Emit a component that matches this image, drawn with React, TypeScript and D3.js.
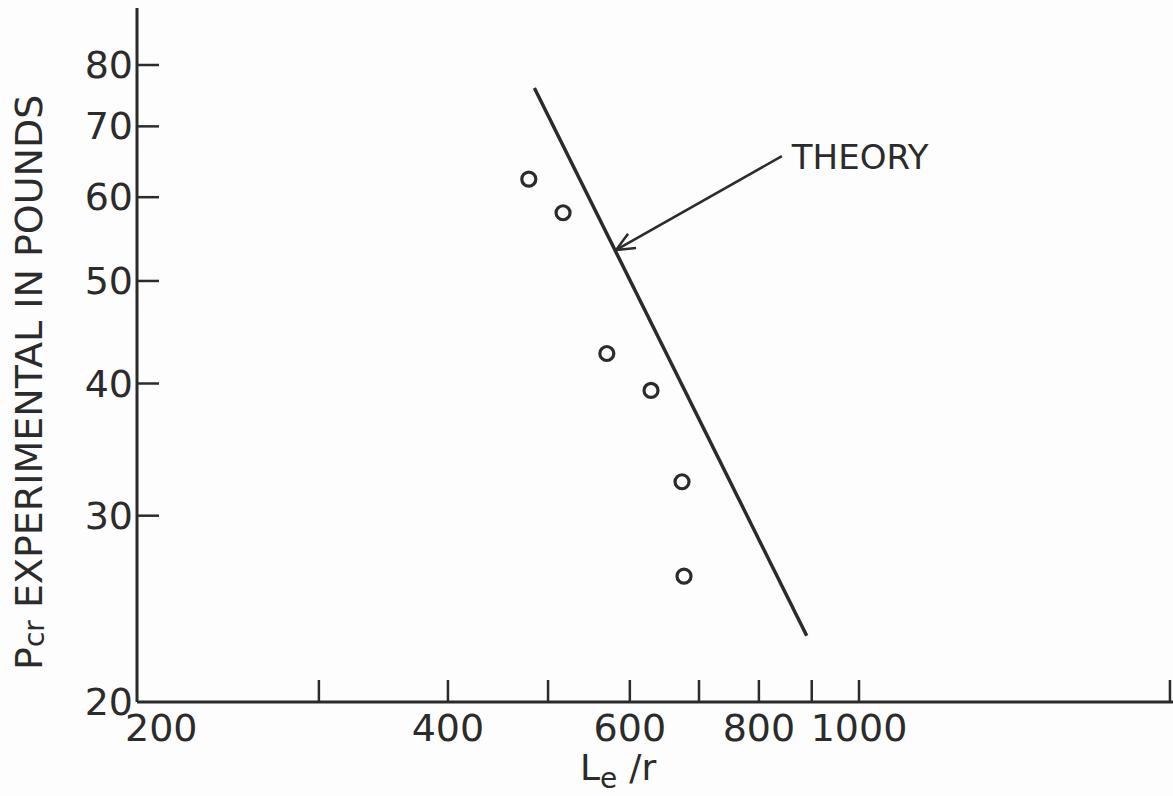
import React from "react";
import * as d3 from "d3";

// Slenderness ratio L_e/r of each test specimen and its measured buckling load (lb)
const slenderness = [479, 517, 570, 629, 674, 677];
const loadExperimental = [62.4, 58.0, 42.7, 39.4, 32.3, 26.3];

// End points of the theoretical curve (a straight line on log-log paper)
const theoryX = [485, 890];
const theoryY = [76.1, 23.1];

// Callout arrow: label end and tip on the theory line
const arrowX = [842, 582];
const arrowY = [65.6, 53.5];

const xTicks = [200, 300, 400, 500, 600, 700, 800, 900, 1000, 2000];
const xTickLabels = ["200", "", "400", "", "600", "", "800", "", "1000", ""];
const yTicks = [20, 30, 40, 50, 60, 70, 80];
const yTickLabels = ["20", "30", "40", "50", "60", "70", "80"];

const W = 1173;
const H = 796;
const INK = "#2b2b2b";
const FONT = "'DejaVu Sans', 'Liberation Sans', sans-serif";

export default function App() {
  const x = d3.scaleLog().domain([200, 1000]).range([137, 859]);
  const y = d3.scaleLog().domain([20, 80]).range([702, 65]);

  const theoryPts: [number, number][] = theoryX.map((v, i) => [x(v), y(theoryY[i])]);
  const theoryPath = d3.line()(theoryPts) as string;

  const ax0 = x(arrowX[0]);
  const ay0 = y(arrowY[0]);
  const ax1 = x(arrowX[1]);
  const ay1 = y(arrowY[1]);
  const ang = Math.atan2(ay1 - ay0, ax1 - ax0);
  const headLen = 20;
  const spread = 0.42;
  const hx1 = ax1 - headLen * Math.cos(ang - spread);
  const hy1 = ay1 - headLen * Math.sin(ang - spread);
  const hx2 = ax1 - headLen * Math.cos(ang + spread);
  const hy2 = ay1 - headLen * Math.sin(ang + spread);

  const axisX0 = x(200);
  const axisY0 = y(20);

  return (
    <svg
      width={W}
      height={H}
      style={{ position: "absolute", left: 0, top: 0, display: "block" }}
      fontFamily={FONT}
    >
      <rect x={0} y={0} width={W} height={H} fill="#fdfdfd" />

      {/* axes */}
      <line x1={axisX0} y1={8} x2={axisX0} y2={axisY0} stroke={INK} strokeWidth={3} />
      <line x1={axisX0} y1={axisY0} x2={W} y2={axisY0} stroke={INK} strokeWidth={3} />

      {/* y ticks and labels */}
      {yTicks.map((t, i) => (
        <g key={"y" + t}>
          {t !== 20 && (
            <line x1={axisX0} y1={y(t)} x2={axisX0 + 22} y2={y(t)} stroke={INK} strokeWidth={2.5} />
          )}
          <text
            x={axisX0 - 4}
            y={y(t)}
            textAnchor="end"
            dominantBaseline="central"
            fontSize={38}
            fill={INK}
          >
            {yTickLabels[i]}
          </text>
        </g>
      ))}

      {/* x ticks and labels */}
      {xTicks.map((t, i) => (
        <g key={"x" + t}>
          {t !== 200 && (
            <line x1={x(t)} y1={axisY0} x2={x(t)} y2={axisY0 - 22} stroke={INK} strokeWidth={2.5} />
          )}
          {xTickLabels[i] && (
            <text
              x={t === 200 ? x(t) - 12 : x(t)}
              y={axisY0 + 39}
              textAnchor={t === 200 ? "start" : "middle"}
              fontSize={38}
              fill={INK}
            >
              {xTickLabels[i]}
            </text>
          )}
        </g>
      ))}

      {/* theory line */}
      <path d={theoryPath} fill="none" stroke={INK} strokeWidth={3.5} />

      {/* experimental points */}
      {slenderness.map((s, i) => (
        <circle
          key={"p" + i}
          cx={x(s)}
          cy={y(loadExperimental[i])}
          r={7}
          fill="none"
          stroke={INK}
          strokeWidth={3.2}
        />
      ))}

      {/* callout */}
      <line x1={ax0} y1={ay0} x2={ax1} y2={ay1} stroke={INK} strokeWidth={2.5} />
      <path
        d={`M${hx1},${hy1} L${ax1},${ay1} L${hx2},${hy2}`}
        fill="none"
        stroke={INK}
        strokeWidth={2.5}
      />
      <text x={ax0 + 10} y={ay0 + 13} fontSize={34} fill={INK}>
        THEORY
      </text>

      {/* axis titles */}
      <text x={580} y={780} fontSize={36} fill={INK}>
        L
        <tspan fontSize={28} dy={8}>e</tspan>
        <tspan fontSize={36} dy={-8} dx={12}>/r</tspan>
      </text>
      <text
        transform={`translate(42, 670) rotate(-90)`}
        x={0}
        y={0}
        fontSize={38}
        fill={INK}
      >
        P
        <tspan fontSize={28} dy={2}>cr</tspan>
        <tspan fontSize={38} dy={-2}> EXPERIMENTAL IN POUNDS</tspan>
      </text>
    </svg>
  );
}
